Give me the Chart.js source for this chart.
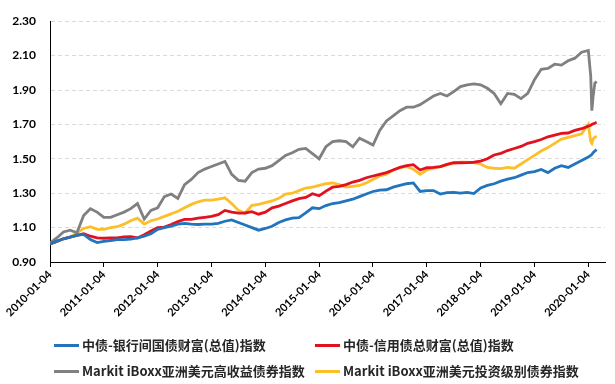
<!DOCTYPE html>
<html lang="zh">
<head>
  <meta charset="UTF-8">
  <title>债券指数走势</title>
  <script src="https://cdn.jsdelivr.net/npm/chart.js"></script>
  <style>
    body { margin: 0; background: #fff; }
    .wrap { position: relative; width: 615px; height: 384px; }
    canvas { position: absolute; left: 0; top: 0; }
    .legend { position: absolute; left: 0; top: 0; width: 615px; height: 384px; pointer-events: none;
      font-family: "Noto Sans CJK SC", sans-serif; font-size: 13px; font-weight: bold; color: #262626; }
    .item { position: absolute; display: flex; align-items: center; white-space: nowrap; line-height: 16px; }
    .item i { display: inline-block; width: 25px; height: 3px; margin-right: 3px; }
  </style>
</head>
<body>
  <div class="wrap">
    <canvas id="chart" width="615" height="384"></canvas>
    <div class="legend" id="legend"></div>
  </div>

  <script>
    // x positions as decimal years (trading-day scale)
    const years = [
      2010.000, 2010.125, 2010.250, 2010.375, 2010.500, 2010.625, 2010.750, 2010.875,
      2011.000, 2011.125, 2011.250, 2011.375, 2011.500, 2011.625, 2011.750, 2011.875,
      2012.000, 2012.125, 2012.250, 2012.375, 2012.500, 2012.625, 2012.750, 2012.875,
      2013.000, 2013.125, 2013.250, 2013.375, 2013.500, 2013.625, 2013.750, 2013.875,
      2014.000, 2014.125, 2014.250, 2014.375, 2014.500, 2014.625, 2014.750, 2014.875,
      2015.000, 2015.125, 2015.250, 2015.375, 2015.500, 2015.625, 2015.750, 2015.875,
      2016.000, 2016.125, 2016.250, 2016.375, 2016.500, 2016.625, 2016.750, 2016.875,
      2017.000, 2017.125, 2017.250, 2017.375, 2017.500, 2017.625, 2017.750, 2017.875,
      2018.000, 2018.125, 2018.250, 2018.375, 2018.500, 2018.625, 2018.750, 2018.875,
      2019.000, 2019.125, 2019.250, 2019.375, 2019.500, 2019.625, 2019.750, 2019.875,
      2020.000, 2020.045, 2020.065, 2020.089, 2020.121, 2020.154
    ];

    const names = [
      '中债-银行间国债财富(总值)指数',
      '中债-信用债总财富(总值)指数',
      'Markit iBoxx亚洲美元高收益债券指数',
      'Markit iBoxx亚洲美元投资级别债券指数'
    ];
    const colors = ['#2274bd', '#e3101f', '#808080', '#fcbf2a'];

    const govBond = [
      1.005, 1.02, 1.035, 1.045, 1.055, 1.06, 1.03, 1.013,
      1.02, 1.025, 1.03, 1.03, 1.033, 1.04, 1.05, 1.065,
      1.09, 1.10, 1.108, 1.12, 1.125, 1.12, 1.118, 1.12,
      1.12, 1.125, 1.137, 1.145, 1.13, 1.115, 1.10, 1.085,
      1.095, 1.108, 1.13, 1.145, 1.155, 1.158, 1.185, 1.215,
      1.21, 1.228, 1.24, 1.245, 1.255, 1.265, 1.28, 1.295,
      1.31, 1.318, 1.32, 1.335, 1.345, 1.355, 1.36, 1.31,
      1.315, 1.315, 1.295, 1.303, 1.305, 1.30, 1.305, 1.298,
      1.33, 1.345, 1.355, 1.37, 1.382, 1.39, 1.405, 1.42,
      1.425, 1.438, 1.42, 1.445, 1.46, 1.45, 1.47, 1.49,
      1.51, 1.52, 1.525, 1.535, 1.545, 1.553
    ];
    const creditBond = [
      1.005, 1.02, 1.035, 1.045, 1.055, 1.065, 1.05, 1.04,
      1.038, 1.04, 1.04, 1.046, 1.048, 1.04, 1.058, 1.08,
      1.10, 1.103, 1.118, 1.135, 1.148, 1.148, 1.155, 1.16,
      1.165, 1.175, 1.20, 1.19, 1.184, 1.185, 1.193, 1.178,
      1.19, 1.215, 1.225, 1.24, 1.255, 1.268, 1.275, 1.297,
      1.285, 1.312, 1.335, 1.34, 1.35, 1.365, 1.375, 1.39,
      1.40, 1.41, 1.42, 1.435, 1.45, 1.46, 1.466, 1.435,
      1.448, 1.45, 1.455, 1.468, 1.477, 1.477, 1.478, 1.48,
      1.487, 1.50, 1.522, 1.532, 1.548, 1.56, 1.572, 1.59,
      1.60, 1.612, 1.628, 1.638, 1.648, 1.65, 1.665, 1.675,
      1.69, 1.695, 1.70, 1.703, 1.707, 1.712
    ];
    const asiaHighYield = [
      1.01, 1.04, 1.075, 1.085, 1.07, 1.17, 1.21, 1.19,
      1.16, 1.16, 1.175, 1.19, 1.21, 1.24, 1.15, 1.20,
      1.215, 1.28, 1.295, 1.27, 1.35, 1.38, 1.42, 1.44,
      1.455, 1.47, 1.485, 1.41, 1.375, 1.37, 1.42, 1.44,
      1.445, 1.46, 1.49, 1.52, 1.535, 1.555, 1.56, 1.53,
      1.50, 1.57, 1.60, 1.605, 1.60, 1.57, 1.62, 1.60,
      1.58, 1.665, 1.72, 1.75, 1.78, 1.80, 1.80, 1.815,
      1.84, 1.865, 1.88, 1.865, 1.89, 1.92, 1.93, 1.935,
      1.93, 1.91, 1.88, 1.82, 1.88, 1.875, 1.85, 1.88,
      1.96, 2.02, 2.025, 2.05, 2.045, 2.07, 2.085, 2.12,
      2.13, 1.98, 1.78, 1.86, 1.94, 1.95
    ];
    const asiaInvGrade = [
      1.005, 1.02, 1.035, 1.045, 1.07, 1.095, 1.105, 1.09,
      1.09, 1.10, 1.105, 1.12, 1.14, 1.155, 1.12, 1.14,
      1.15, 1.165, 1.18, 1.195, 1.215, 1.235, 1.25, 1.26,
      1.26, 1.265, 1.273, 1.24, 1.20, 1.185, 1.23, 1.235,
      1.245, 1.255, 1.27, 1.295, 1.30, 1.315, 1.33, 1.335,
      1.345, 1.355, 1.36, 1.35, 1.335, 1.34, 1.345, 1.36,
      1.38, 1.40, 1.41, 1.435, 1.449, 1.455, 1.44, 1.41,
      1.435, 1.445, 1.455, 1.465, 1.475, 1.48, 1.48, 1.478,
      1.47, 1.45, 1.445, 1.443, 1.45, 1.445, 1.47, 1.495,
      1.52, 1.545, 1.565, 1.59, 1.615, 1.625, 1.635, 1.645,
      1.70, 1.60, 1.59, 1.615, 1.625, 1.632
    ];
    const series = [govBond, creditBond, asiaHighYield, asiaInvGrade];

    const xTickLabels = [
      '2010-01-04', '2011-01-04', '2012-01-04', '2013-01-04', '2014-01-04', '2015-01-04',
      '2016-01-04', '2017-01-04', '2018-01-04', '2019-01-04', '2020-01-04'
    ];
    const yTicks = [0.9, 1.1, 1.3, 1.5, 1.7, 1.9, 2.1, 2.3];

    const xTickValues = xTickLabels.map(s => parseInt(s.slice(0, 4)));
    const tickFont = { family: 'Lato', size: 12, weight: 'bold' };

    const ctx = document.getElementById('chart').getContext('2d');
    new Chart(ctx, {
      type: 'line',
      data: {
        datasets: names.map((name, i) => ({
          label: name,
          data: years.map((x, j) => ({ x: x, y: series[i][j] })),
          borderColor: colors[i],
          borderWidth: 2.8,
          pointRadius: 0,
          tension: 0
        }))
      },
      options: {
        responsive: false,
        animation: false,
        layout: { padding: { left: 0, right: 10, top: 11, bottom: 0 } },
        plugins: { legend: { display: false }, tooltip: { enabled: false } },
        scales: {
          x: {
            type: 'linear',
            min: 2010,
            max: 2020.31,
            afterBuildTicks: s => { s.ticks = xTickValues.map(v => ({ value: v })); },
            afterFit: s => { s.height = 122; },
            ticks: {
              autoSkip: false,
              minRotation: 45,
              maxRotation: 45,
              padding: 1,
              color: '#000',
              font: { family: 'Lato', size: 11, weight: 'bold' },
              callback: v => xTickLabels[xTickValues.indexOf(v)]
            },
            grid: { drawOnChartArea: false, drawTicks: true, tickLength: 5, color: '#000' },
            border: { color: '#000', width: 1 }
          },
          y: {
            min: 0.9,
            max: 2.3,
            afterBuildTicks: s => { s.ticks = yTicks.map(v => ({ value: v })); },
            afterFit: s => { s.width = 50; },
            ticks: {
              padding: 14,
              color: '#000',
              font: tickFont,
              callback: v => v.toFixed(2)
            },
            grid: { color: '#d9d9d9', drawTicks: false },
            border: { color: '#000', width: 1, dash: [4, 3] }
          }
        }
      }
    });

    // legend, two rows of two
    const legendPos = [[54, 337], [315, 337], [54, 363], [315, 363]];
    const legend = document.getElementById('legend');
    names.forEach((name, i) => {
      const item = document.createElement('div');
      item.className = 'item';
      item.style.left = legendPos[i][0] + 'px';
      item.style.top = legendPos[i][1] + 'px';
      item.innerHTML = '<i style="background:' + colors[i] + '"></i><span></span>';
      item.querySelector('span').textContent = name;
      legend.appendChild(item);
    });
  </script>
</body>
</html>
